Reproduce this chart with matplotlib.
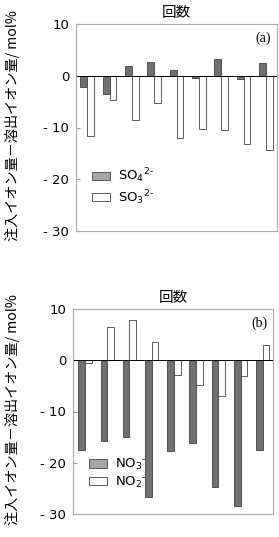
import numpy as np
import matplotlib.pyplot as plt

plt.rcParams['font.family'] = ['DejaVu Sans', 'Noto Sans CJK JP']

# data
runs = np.arange(9)
so4 = [-2.2, -3.5, 1.8, 2.7, 1.2, -0.4, 3.2, -0.6, 2.5]
so3 = [-11.7, -4.6, -8.6, -5.3, -12.1, -10.3, -10.5, -13.2, -14.3]
no3 = [-17.6, -15.8, -15.0, -26.6, -17.8, -16.1, -24.7, -28.4, -17.5]
no2 = [-0.45, 6.55, 7.9, 3.6, -2.85, -4.9, -7.0, -3.0, 3.0]
yticks = [10, 0, -10, -20, -30]
ytick_labels = ['10', '0', '- 10', '- 20', '- 30']

W, H = 279, 537
fig = plt.figure(figsize=(W / 100, H / 100), dpi=100)

def box(l, t, r, b):
    return [l / W, 1 - b / H, (r - l) / W, (b - t) / H]

panels = [
    (box(76, 24, 277, 231), so4, so3, [r'SO$_4$$^{2\text{-}}$', r'SO$_3$$^{2\text{-}}$'], '(a)', (-0.5, 8.5), 126),
    (box(73, 309, 273, 514), no3, no2, [r'NO$_3$$^{\text{-}}$', r'NO$_2$$^{\text{-}}$'], '(b)', (-0.54, 8.46), 410),
]

w = 0.3
for rect, dark, light, names, tag, xl, ymid in panels:
    ax = fig.add_axes(rect)
    ax.bar(runs - w / 2, dark, w, color='#707070', edgecolor='#404040', linewidth=0.6, label=names[0])
    ax.bar(runs + w / 2, light, w, color='white', edgecolor='#404040', linewidth=0.6, label=names[1])
    ax.axhline(0, color='black', lw=0.7)
    ax.set_xlim(*xl)
    ax.set_ylim(-30, 10)
    ax.set_xticks([])
    ax.set_yticks(yticks)
    ax.set_yticklabels(ytick_labels, fontsize=9.5)
    ax.tick_params(axis='y', direction='in', length=3, color='#999999', pad=5)
    for s in ax.spines.values():
        s.set_color('#aaaaaa')
        s.set_linewidth(0.8)
    ax.set_title('回数', fontsize=10.5, pad=5, family=['Noto Sans CJK JP'])
    ax.text(0.97, 0.93, tag, transform=ax.transAxes, ha='right', va='center',
            fontsize=10, family='Liberation Serif')
    leg = ax.legend(loc='lower left', bbox_to_anchor=(0.02, 0.06), frameon=False,
                    fontsize=9.5, handlelength=1.4, handleheight=0.6,
                    handletextpad=0.6, labelspacing=0.2)
    leg.legend_handles[0].set_facecolor('#a8a8a8')
    fig.text(12 / W, 1 - ymid / H, '注入イオン量－溶出イオン量/ mol%', rotation=90,
             ha='center', va='center', fontsize=10.2,
             family=['Noto Sans CJK JP', 'DejaVu Sans'])

fig.savefig('out.png', dpi=100)
